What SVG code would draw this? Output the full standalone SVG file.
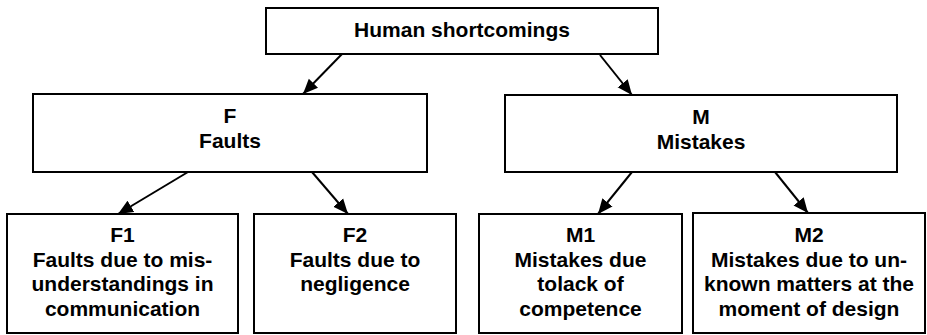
<svg xmlns="http://www.w3.org/2000/svg" width="927" height="335" viewBox="0 0 927 335">
<style>
.box{fill:#fff;stroke:#000;stroke-width:2}
text{font-family:"Liberation Sans",Arial,sans-serif;font-weight:bold;font-size:21px;fill:#000;text-anchor:middle}
.conn line{stroke:#000;stroke-width:2;marker-end:url(#ah)}
</style>
<defs>
<marker id="ah" markerUnits="userSpaceOnUse" markerWidth="16" markerHeight="14" refX="15" refY="6.5" orient="auto" viewBox="0 0 16 13">
<path d="M0,0 L15,6.5 L0,13 z" fill="#000"/>
</marker>
</defs>
<rect width="927" height="335" fill="#fff"/>
<g id="human">
<rect class="box" x="266" y="8" width="392" height="46"/>
<text x="462" y="37">Human shortcomings</text>
</g>
<g id="F">
<rect class="box" x="33" y="94" width="394" height="78"/>
<text x="230" y="123">F</text>
<text x="230" y="148">Faults</text>
</g>
<g id="M">
<rect class="box" x="505" y="95" width="392" height="77"/>
<text x="701" y="124">M</text>
<text x="701" y="149">Mistakes</text>
</g>
<g id="F1">
<rect class="box" x="7" y="214" width="231" height="119"/>
<text x="122.5" y="242">F1</text>
<text x="122.5" y="266.5">Faults due to mis-</text>
<text x="122.5" y="291">understandings in</text>
<text x="122.5" y="315.5">communication</text>
</g>
<g id="F2">
<rect class="box" x="254" y="214" width="202" height="119"/>
<text x="355" y="242">F2</text>
<text x="355" y="266.5">Faults due to</text>
<text x="355" y="291">negligence</text>
</g>
<g id="M1">
<rect class="box" x="479" y="214" width="203" height="119"/>
<text x="580.5" y="242">M1</text>
<text x="580.5" y="266.5">Mistakes due</text>
<text x="580.5" y="291">tolack of</text>
<text x="580.5" y="315.5">competence</text>
</g>
<g id="M2">
<rect class="box" x="693" y="213" width="232" height="120"/>
<text x="809" y="242">M2</text>
<text x="809" y="266.5">Mistakes due to un-</text>
<text x="809" y="291">known matters at the</text>
<text x="809" y="315.5">moment of design</text>
</g>
<g id="connectors" class="conn">
<line x1="342" y1="54" x2="303" y2="94"/>
<line x1="600" y1="55" x2="632" y2="95"/>
<line x1="188" y1="172" x2="118" y2="214"/>
<line x1="312" y1="172" x2="348" y2="214"/>
<line x1="632" y1="172" x2="598" y2="214"/>
<line x1="775" y1="172" x2="808" y2="213"/>
</g>
</svg>
